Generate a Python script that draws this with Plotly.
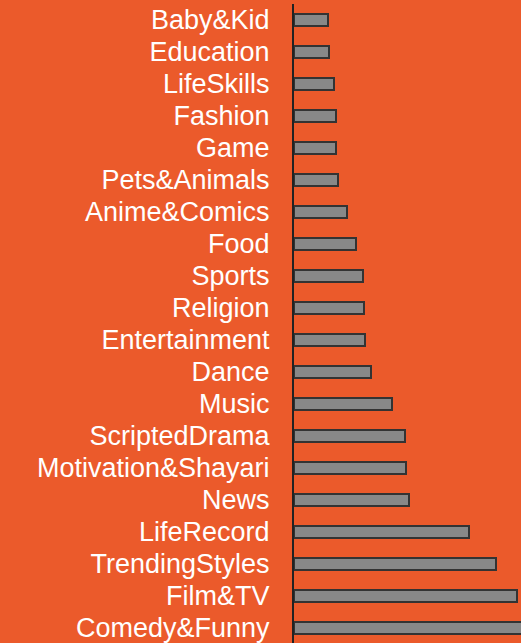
import plotly.graph_objects as go

categories = ["Baby&Kid", "Education", "LifeSkills", "Fashion", "Game", "Pets&Animals",
              "Anime&Comics", "Food", "Sports", "Religion", "Entertainment", "Dance",
              "Music", "ScriptedDrama", "Motivation&Shayari", "News", "LifeRecord",
              "TrendingStyles", "Film&TV", "Comedy&Funny"]
values = [34, 35, 40, 42, 42, 44, 53, 62, 69, 70, 71, 77, 98, 111, 112, 115, 175, 202, 223, 240]

BG = "#EB5A2B"

fig = go.Figure(go.Bar(
    x=values, y=categories, orientation="h",
    marker=dict(color="#888888", line=dict(color="#333333", width=2)),
    width=0.375,
))

fig.update_layout(
    width=521, height=643,
    margin=dict(l=294, r=0, t=4, b=0),
    paper_bgcolor=BG, plot_bgcolor=BG,
    showlegend=False,
    font=dict(family="Liberation Sans, Arial, sans-serif", size=27, color="white"),
)
fig.update_xaxes(range=[0, 227], visible=False, showgrid=False, zeroline=False)
fig.update_yaxes(
    categoryorder="array", categoryarray=categories,
    tickmode="array", tickvals=categories, ticktext=categories,
    range=[19.47, -0.5],
    showline=True, linecolor="#222222", linewidth=2,
    showgrid=False, zeroline=False,
    ticks="", ticklabelstandoff=17,
    tickfont=dict(size=27, color="white"),
)

fig.write_html("out.html")
